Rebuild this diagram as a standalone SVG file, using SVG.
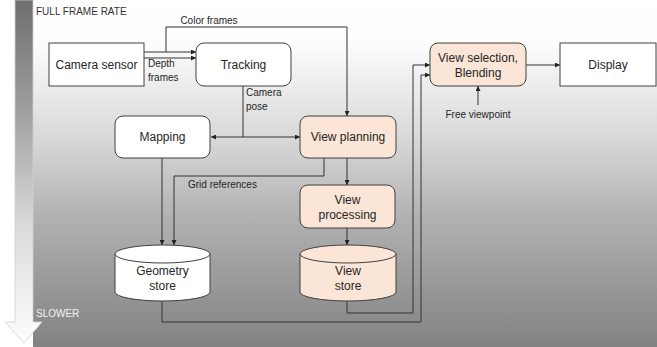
<svg xmlns="http://www.w3.org/2000/svg" width="657" height="347" viewBox="0 0 657 347">
<defs>
<linearGradient id="bg" x1="0" y1="0" x2="0" y2="347" gradientUnits="userSpaceOnUse">
<stop offset="0" stop-color="#ffffff"/>
<stop offset="0.12" stop-color="#fdfdfd"/>
<stop offset="0.4" stop-color="#d8d8d8"/>
<stop offset="0.62" stop-color="#b2b2b2"/>
<stop offset="1" stop-color="#828282"/>
</linearGradient>
<linearGradient id="shaft" x1="0" y1="0" x2="0" y2="347" gradientUnits="userSpaceOnUse">
<stop offset="0" stop-color="#6e6e6e"/>
<stop offset="0.3" stop-color="#9c9c9c"/>
<stop offset="0.65" stop-color="#dadada"/>
<stop offset="1" stop-color="#ffffff"/>
</linearGradient>
<marker id="ah" viewBox="0 0 10 10" refX="10" refY="5" markerWidth="5" markerHeight="5" orient="auto" markerUnits="userSpaceOnUse">
<path d="M0,0 L10,5 L0,10 Z" fill="#222"/>
</marker>
</defs>
<style>
text{font-family:"Liberation Sans",Arial,sans-serif;fill:#262626}
.n{font-size:12px;text-anchor:middle}
.l{font-size:10px}
.box{fill:#ffffff;stroke:#404040;stroke-width:1}
.pk{fill:#fbe5d6;stroke:#404040;stroke-width:1}
.c{fill:none;stroke:#333;stroke-width:1}
</style>
<rect x="0" y="0" width="657" height="347" fill="#ffffff"/>
<rect x="33" y="0" width="624" height="347" fill="url(#bg)"/>
<path d="M15,0 L33,0 L33,322 L42,322 L24,343 L5,322 L15,322 Z" fill="url(#shaft)" stroke="#cfcfcf" stroke-width="0.8"/>
<text class="l" x="36" y="15" style="fill:#333">FULL FRAME RATE</text>
<text class="l" x="36" y="317" style="fill:#f2f2f2">SLOWER</text>

<g id="connectors">
<path class="c" d="M144,52 H196" marker-end="url(#ah)"/>
<path class="c" d="M144,58 H196" marker-end="url(#ah)"/>
<path class="c" d="M166,52 V27 H347 V116" marker-end="url(#ah)"/>
<path class="c" d="M243,86 V137"/>
<path class="c" d="M243,137 H211" marker-end="url(#ah)"/>
<path class="c" d="M243,137 H300" marker-end="url(#ah)"/>
<path class="c" d="M162,158 V245" marker-end="url(#ah)"/>
<path class="c" d="M324,158 V176 H174 V245" marker-end="url(#ah)"/>
<path class="c" d="M347,158 V185" marker-end="url(#ah)"/>
<path class="c" d="M347,228 V245" marker-end="url(#ah)"/>
<path class="c" d="M347,301 V313 H413 V65 H430" marker-end="url(#ah)"/>
<path class="c" d="M162,300 V322 H421 V75 H430" marker-end="url(#ah)"/>
<path class="c" d="M526,65 H560" marker-end="url(#ah)"/>
<path class="c" d="M478,105 V86" marker-end="url(#ah)"/>
<text class="l" x="209" y="24" text-anchor="middle">Color frames</text>
<text class="l" x="148" y="67">Depth</text>
<text class="l" x="148" y="81">frames</text>
<text class="l" x="246" y="96">Camera</text>
<text class="l" x="246" y="110">pose</text>
<text class="l" x="188" y="188">Grid references</text>
<text class="l" x="478" y="118" text-anchor="middle">Free viewpoint</text>
</g>

<g id="camera-sensor">
<rect class="box" x="49" y="43" width="95" height="43"/>
<text class="n" x="96.5" y="69">Camera sensor</text>
</g>
<g id="tracking">
<rect class="box" x="196" y="43" width="95" height="43" rx="8"/>
<text class="n" x="243.5" y="69">Tracking</text>
</g>
<g id="mapping">
<rect class="box" x="115" y="116" width="95" height="42" rx="8"/>
<text class="n" x="162.5" y="141">Mapping</text>
</g>
<g id="view-planning">
<rect class="pk" x="300" y="116" width="96" height="42" rx="8"/>
<text class="n" x="348" y="141">View planning</text>
</g>
<g id="view-processing">
<rect class="pk" x="300" y="185" width="95" height="43" rx="8"/>
<text class="n" x="347.5" y="204">View</text>
<text class="n" x="347.5" y="219">processing</text>
</g>
<g id="view-selection">
<rect class="pk" x="430" y="43" width="96" height="43" rx="8"/>
<text class="n" x="478" y="62">View selection,</text>
<text class="n" x="478" y="77">Blending</text>
</g>
<g id="display">
<rect class="box" x="560" y="43" width="96" height="43"/>
<text class="n" x="608" y="69">Display</text>
</g>
<g id="geometry-store">
<path class="box" d="M115,254 V292 A47.5,9 0 0 0 210,292 V254"/>
<ellipse class="box" cx="162.5" cy="254" rx="47.5" ry="9"/>
<text class="n" x="162.5" y="275">Geometry</text>
<text class="n" x="162.5" y="290">store</text>
</g>
<g id="view-store">
<path class="pk" d="M300,254 V292 A48,9 0 0 0 396,292 V254"/>
<ellipse class="pk" cx="348" cy="254" rx="48" ry="9"/>
<text class="n" x="348" y="275">View</text>
<text class="n" x="348" y="290">store</text>
</g>
</svg>
